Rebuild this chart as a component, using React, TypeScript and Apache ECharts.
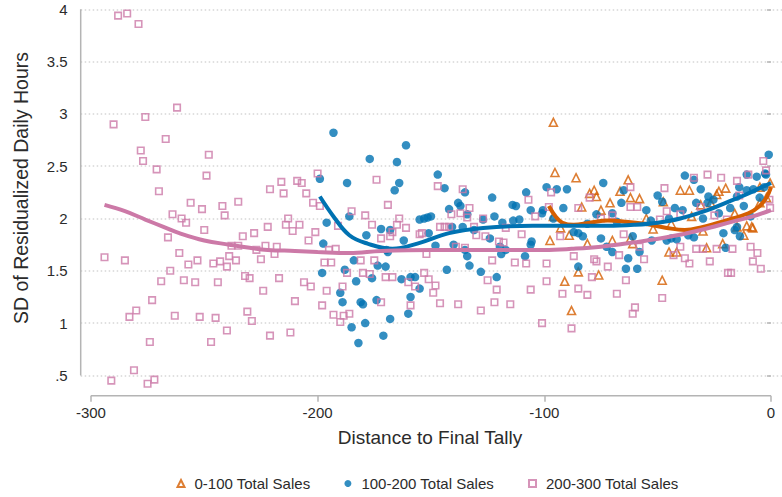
import { useEffect, useRef } from "react";
import * as echarts from "echarts";

// Axis ticks and labels
const X_TICKS = [-300, -200, -100, 0];
const Y_TICKS = [0.5, 1, 1.5, 2, 2.5, 3, 3.5, 4];
const X_TITLE = "Distance to Final Tally";
const Y_TITLE = "SD of Residualized Daily Hours";
const NAMES = ["0-100 Total Sales", "100-200 Total Sales", "200-300 Total Sales"];

// 0-100 total sales: [distance, SD]
const lowSales: [number, number][] = [
  [-97.5, 1.79], [-96, 2.92], [-96, 2.02], [-95.3, 2.44], [-92.8, 1.91], [-91, 1.4],
  [-89, 1.84], [-88, 1.12], [-86, 2.39], [-85, 1.49], [-83.5, 2.11], [-81, 1.76],
  [-80, 2.24], [-78, 2.27], [-77, 2.21], [-76, 1.46], [-75, 2.08], [-71, 2.15],
  [-70, 1.79], [-66.6, 2.26], [-63, 2.37], [-62, 2.2], [-62, 1.81], [-61, 1.76],
  [-58, 2.19], [-55, 2.0], [-52, 1.9], [-48, 1.41], [-47.5, 2.16], [-45, 1.68],
  [-44, 1.95], [-41.6, 1.68], [-40, 2.27], [-36, 2.27], [-35, 2.02], [-31, 2.13],
  [-30, 1.88], [-28.4, 1.72], [-26.6, 2.15], [-24, 2.23], [-23, 2.26], [-21.3, 1.76],
  [-20, 2.29], [-16, 2.05], [-15, 1.92], [-12, 1.84], [-10.7, 1.93], [-8.5, 1.92],
  [-8, 1.91], [-4.9, 2.3], [-4.9, 2.15], [-2, 2.2], [-0.4, 2.34]
];

// 100-200 total sales
const midSales: [number, number][] = [
  [-199, 2.38], [-198, 1.48], [-197.5, 1.76], [-196, 1.96], [-193, 2.82], [-190, 1.29],
  [-189, 1.2], [-188, 1.51], [-187, 2.34], [-186, 2.02], [-185, 0.96], [-184, 1.6],
  [-183, 1.4], [-182, 0.81], [-181, 1.2], [-180, 1.18], [-179, 1.0], [-178.5, 1.84],
  [-177, 2.57], [-176, 1.43], [-174, 1.22], [-173.5, 1.55], [-172, 1.9], [-171, 0.88],
  [-170, 1.54], [-169.6, 1.7], [-169, 1.68], [-168, 1.89], [-168, 1.04], [-166, 2.27],
  [-165, 2.54], [-164, 2.34], [-163, 1.42], [-162, 1.79], [-161, 2.7], [-160, 1.09],
  [-159, 1.44], [-159, 1.25], [-157, 1.44], [-155, 1.99], [-155, 1.33], [-153, 2.0],
  [-151.5, 2.01], [-151, 1.86], [-150, 2.02], [-148, 1.74], [-147, 2.42], [-144, 2.29],
  [-143, 1.51], [-142, 2.09], [-140.7, 1.92], [-140, 1.75], [-138, 2.15], [-137, 2.12],
  [-136, 1.92], [-135, 2.25], [-135, 1.7], [-134, 2.04], [-134, 1.64], [-133, 1.55],
  [-131, 1.89], [-128, 1.49], [-127, 1.99], [-124, 1.81], [-123, 2.2], [-122, 2.02],
  [-121, 1.44], [-119.6, 1.73], [-119, 1.66], [-118.5, 1.96], [-117, 1.7], [-114, 2.13],
  [-113.7, 1.98], [-112.5, 2.12], [-111, 1.99], [-108.5, 1.64], [-108, 2.25], [-106, 2.08],
  [-106, 1.75], [-105.6, 1.78], [-101, 2.05], [-100.6, 2.08], [-99, 2.3], [-96, 2.0],
  [-94.5, 2.28], [-91.6, 2.1], [-90, 2.28], [-87, 1.87], [-85, 1.86], [-85, 1.54],
  [-83, 1.83], [-81, 1.95], [-77, 2.04], [-75, 1.81], [-74, 2.34], [-72.5, 1.73],
  [-70, 2.05], [-70, 1.68], [-68, 1.97], [-66, 2.15], [-65, 2.27], [-64, 1.52],
  [-63, 1.62], [-61, 1.83], [-59, 1.52], [-58, 1.68], [-55, 2.08], [-53, 1.98],
  [-52.6, 1.79], [-50, 2.22], [-48, 2.16], [-46, 1.79], [-45, 2.0], [-44, 1.81],
  [-42.4, 2.1], [-41.6, 1.8], [-39, 2.08], [-38, 2.41], [-36.5, 1.84], [-34, 2.37],
  [-34, 1.82], [-33, 2.15], [-31, 2.28], [-30, 2.0], [-28, 2.15], [-27.6, 2.21],
  [-25.4, 2.18], [-23, 2.05], [-21, 1.86], [-20, 1.72], [-18, 2.1], [-16, 1.89],
  [-15, 2.21], [-15, 1.92], [-14, 2.3], [-13.7, 1.83], [-12, 2.12], [-10.7, 2.42],
  [-10.7, 2.27], [-9, 2.02], [-7.8, 2.28], [-6.3, 2.4], [-5, 2.2], [-3, 2.3],
  [-2.6, 2.43], [-2.2, 2.42], [-1, 2.61]
];

// 200-300 total sales
const highSales: [number, number][] = [
  [-294, 1.63], [-291, 0.45], [-290, 2.9], [-288, 3.94], [-285, 1.6], [-284, 3.96],
  [-283, 1.06], [-281, 0.55], [-280, 1.12], [-279, 3.86], [-278, 2.65], [-277, 2.55],
  [-276, 2.97], [-275, 0.42], [-274, 0.82], [-273, 1.22], [-272, 0.46], [-271, 2.47],
  [-270, 2.26], [-269, 1.4], [-267, 2.76], [-266, 1.82], [-265, 1.5], [-264, 2.04],
  [-263, 1.07], [-262, 3.06], [-261, 1.67], [-260, 2.0], [-259, 1.41], [-258, 1.96],
  [-257, 1.56], [-256, 2.15], [-254, 1.39], [-253, 1.6], [-252, 1.06], [-251, 2.09],
  [-250, 1.89], [-249, 2.41], [-248, 2.61], [-247, 0.82], [-246, 1.57], [-245, 1.05],
  [-244, 1.39], [-243, 1.59], [-242, 2.12], [-241, 2.03], [-240, 1.54], [-240, 0.93],
  [-239, 1.64], [-238, 1.74], [-236, 1.6], [-235, 2.16], [-235, 1.74], [-233, 1.83],
  [-232, 1.45], [-231, 1.11], [-230, 1.43], [-229, 1.02], [-228, 1.86], [-227, 1.7],
  [-225, 1.61], [-224, 1.31], [-223, 1.74], [-222, 1.92], [-221, 2.28], [-221, 0.88],
  [-219, 1.66], [-218, 1.73], [-217, 1.43], [-216, 2.35], [-215, 2.24], [-214, 1.94],
  [-213, 2.0], [-212, 0.91], [-211, 1.88], [-210, 1.21], [-209, 2.36], [-208, 1.94],
  [-207, 2.34], [-206, 1.39], [-205, 2.24], [-204, 1.79], [-203, 1.35], [-202, 2.15],
  [-201, 1.87], [-200, 2.43], [-199, 2.12], [-198, 1.17], [-197, 1.58], [-196, 1.31],
  [-195, 1.7], [-194, 1.58], [-193, 1.08], [-192, 1.71], [-191, 1.93], [-190, 1.01],
  [-189, 1.35], [-188.5, 1.07], [-187, 1.48], [-186, 1.09], [-185, 2.07], [-181, 1.6],
  [-180, 1.48], [-179, 2.03], [-177, 1.47], [-176, 1.94], [-175, 1.6], [-174, 2.37],
  [-172, 1.81], [-172, 1.2], [-170, 1.44], [-169, 2.13], [-168, 1.83], [-167, 1.87],
  [-167, 1.44], [-165, 1.94], [-164, 2.0], [-161, 1.91], [-160, 1.39], [-159, 1.17],
  [-157, 1.35], [-155, 1.85], [-154, 1.86], [-153, 1.48], [-152, 1.66], [-151, 1.42],
  [-149, 1.29], [-148, 1.36], [-147, 2.31], [-146, 1.92], [-146, 1.19], [-144, 1.92],
  [-142, 1.92], [-141, 2.04], [-139, 1.73], [-138, 1.18], [-137, 2.05], [-136, 2.28],
  [-135, 1.72], [-134, 2.01], [-133, 2.1], [-131, 1.92], [-130, 1.84], [-128, 1.12],
  [-127, 2.0], [-126, 1.83], [-125, 1.41], [-123, 1.6], [-122, 1.2], [-121, 1.32],
  [-120, 1.78], [-118, 1.77], [-117, 1.91], [-115, 1.18], [-113, 1.58], [-110, 1.85],
  [-108, 1.57], [-107, 2.18], [-106, 1.32], [-104, 2.02], [-101, 1.0], [-99, 1.57],
  [-99, 1.4], [-98, 2.11], [-97, 2.25], [-93, 1.83], [-92, 1.28], [-88, 0.95],
  [-87, 1.64], [-85, 2.1], [-85, 1.33], [-81, 1.27], [-80, 2.2], [-79, 1.44],
  [-78, 1.61], [-77, 1.59], [-75, 2.0], [-72, 1.54], [-70, 2.03], [-68, 1.28],
  [-67, 1.65], [-65, 1.85], [-64, 1.41], [-62, 2.3], [-62, 2.11], [-61, 1.09],
  [-60, 1.15], [-59, 2.11], [-58, 1.73], [-56, 1.61], [-49, 1.99], [-48, 1.24],
  [-47, 2.29], [-46, 2.07], [-43, 1.65], [-40, 2.04], [-40, 1.73], [-38, 1.62],
  [-36, 1.57], [-34, 2.39], [-33, 1.71], [-31, 2.11], [-30, 1.71], [-28, 2.42],
  [-27, 1.59], [-25, 2.03], [-24, 1.71], [-22, 2.39], [-19.5, 1.99], [-19, 1.48],
  [-17.6, 1.48], [-17, 1.71], [-15, 2.36], [-14, 2.22], [-10, 2.42], [-9, 1.73],
  [-8, 1.59], [-6, 1.67], [-4.5, 1.52], [-3.4, 2.55], [-2.2, 2.46], [-0.7, 2.18],
  [-0.4, 2.1]
];

// Smoothed fits per group
const lowFit: [number, number][] = [
  [-98, 2.12], [-95, 2.02], [-92, 1.96], [-87, 1.94], [-80, 1.96], [-72, 1.98],
  [-64, 1.97], [-56, 1.95], [-46, 1.91], [-38, 1.89], [-30, 1.92], [-20, 1.98],
  [-10, 2.05], [-5, 2.12], [-2, 2.2], [0, 2.3]
];
const midFit: [number, number][] = [
  [-199, 2.21], [-193, 2.02], [-186, 1.84], [-178, 1.76], [-167, 1.71], [-156, 1.76],
  [-142, 1.86], [-127, 1.91], [-105, 1.93], [-90, 1.93], [-72, 1.93], [-60, 1.94],
  [-50, 1.96], [-40, 2.0], [-28, 2.08], [-20, 2.15], [-12, 2.22], [-5, 2.29], [0, 2.34]
];
const highFit: [number, number][] = [
  [-294, 2.13], [-285, 2.07], [-276, 1.99], [-268, 1.92], [-261, 1.86], [-250, 1.79],
  [-239, 1.75], [-230, 1.72], [-222, 1.7], [-210, 1.69], [-200, 1.68], [-186, 1.67],
  [-172, 1.69], [-150, 1.7], [-130, 1.7], [-100, 1.7], [-88, 1.71], [-75, 1.73],
  [-61, 1.77], [-46, 1.82], [-31, 1.89], [-17, 1.97], [-8, 2.02], [0, 2.08]
];

const ORANGE = "#d55e00";
const BLUE = "#0072b2";
const PINK = "#cc79a7";
const AXIS_GREY = "#b4b4b4";
const TEXT = "#2b2b2b";
const FONT = "Liberation Sans, Arial, sans-serif";

const X_MIN = -304.5;
const X_MAX = 4.85;
const Y_MIN = 0.306;
const Y_MAX = 4.089;

export default function App() {
  const ref = useRef<HTMLDivElement>(null);

  useEffect(() => {
    if (!ref.current) return;
    const chart = echarts.init(ref.current, null, { renderer: "svg" });

    const fitLine = (name: string, data: [number, number][], color: string) => ({
      name,
      type: "line",
      data,
      smooth: 0.4,
      showSymbol: false,
      symbol: "none",
      silent: true,
      z: 4,
      lineStyle: { color, width: 4 },
      itemStyle: { color },
    });

    chart.setOption({
      animation: false,
      backgroundColor: "#ffffff",
      textStyle: { fontFamily: FONT },
      grid: { left: 80.7, right: 0, top: 0, bottom: 101.3, containLabel: false },
      xAxis: {
        type: "value",
        min: X_MIN,
        max: X_MAX,
        axisLine: { show: false },
        splitLine: { show: false },
        axisTick: {
          show: true,
          customValues: X_TICKS,
          length: 6,
          lineStyle: { color: AXIS_GREY, width: 1.5 },
        },
        axisLabel: {
          customValues: X_TICKS,
          margin: 9,
          color: TEXT,
          fontSize: 15,
          fontFamily: FONT,
        },
      },
      yAxis: {
        type: "value",
        min: Y_MIN,
        max: Y_MAX,
        axisLine: { show: false },
        axisTick: {
          show: true,
          customValues: Y_TICKS,
          length: 4,
          lineStyle: { color: AXIS_GREY, width: 1.5 },
        },
        axisLabel: {
          customValues: Y_TICKS,
          margin: 13,
          color: TEXT,
          fontSize: 15,
          fontFamily: FONT,
          formatter: (v: number) => (v < 1 ? String(v).replace(/^0/, "") : String(v)),
        },
        splitLine: {
          show: true,
          lineStyle: { color: "#d6d6d6", width: 1.5, type: [1.5, 2.5] },
        },
      },
      legend: {
        data: NAMES,
        left: 176.5,
        top: 476,
        padding: 0,
        itemWidth: 7,
        itemHeight: 7,
        itemGap: 34,
        textStyle: {
          color: TEXT,
          fontSize: 15,
          fontFamily: FONT,
          padding: [0, 0, 0, 5],
        },
      },
      graphic: [
        {
          type: "text",
          x: 21,
          y: 188,
          rotation: Math.PI / 2,
          style: {
            text: Y_TITLE,
            fill: TEXT,
            font: `19.5px ${FONT}`,
            align: "center",
            verticalAlign: "middle",
          },
        },
        {
          type: "text",
          x: 430,
          y: 437,
          style: {
            text: X_TITLE,
            fill: TEXT,
            font: `19px ${FONT}`,
            align: "center",
            verticalAlign: "middle",
          },
        },
      ],
      series: [
        {
          name: NAMES[0],
          type: "scatter",
          data: lowSales,
          symbol: "triangle",
          symbolSize: 8,
          z: 2,
          itemStyle: { color: "rgba(255,255,255,0)", borderColor: ORANGE, borderWidth: 1.6 },
        },
        {
          name: NAMES[1],
          type: "scatter",
          data: midSales,
          symbol: "circle",
          symbolSize: 8.5,
          z: 2,
          itemStyle: { color: BLUE },
        },
        {
          name: NAMES[2],
          type: "scatter",
          data: highSales,
          symbol: "rect",
          symbolSize: 6.5,
          z: 2,
          itemStyle: { color: "rgba(255,255,255,0)", borderColor: PINK, borderWidth: 1.6 },
        },
        fitLine(NAMES[0], lowFit, ORANGE),
        fitLine(NAMES[1], midFit, BLUE),
        fitLine(NAMES[2], highFit, PINK),
        // axis lines spanning only the labelled ranges
        {
          type: "line",
          data: [[X_TICKS[0], Y_MIN], [X_TICKS[X_TICKS.length - 1], Y_MIN]],
          symbol: "none",
          silent: true,
          clip: false,
          lineStyle: { color: AXIS_GREY, width: 1.5 },
        },
        {
          type: "line",
          data: [[X_MIN, Y_TICKS[0]], [X_MIN, Y_TICKS[Y_TICKS.length - 1]]],
          symbol: "none",
          silent: true,
          clip: false,
          lineStyle: { color: AXIS_GREY, width: 1.5 },
        },
      ],
    });

    return () => chart.dispose();
  }, []);

  return (
    <div
      ref={ref}
      style={{ position: "fixed", left: 0, top: 0, width: 782, height: 497, background: "#fff" }}
    />
  );
}
